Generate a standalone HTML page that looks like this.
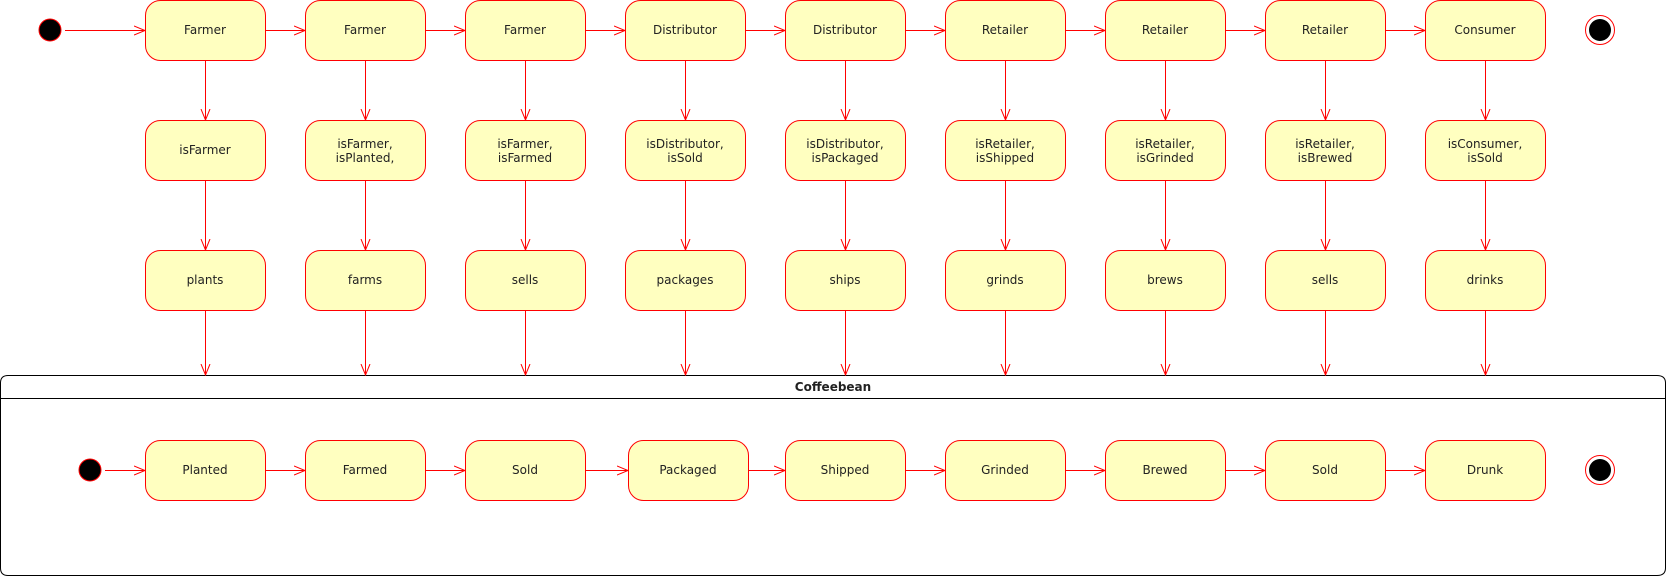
<!DOCTYPE html>
<html><head><meta charset="utf-8"><style>
html,body{margin:0;padding:0;background:#fff;}
svg{display:block}
text{font-family:"DejaVu Sans","Liberation Sans",sans-serif;font-size:12px;fill:#222;text-anchor:middle;dominant-baseline:central}
.b{fill:#ffffc0;stroke:#ff0000;stroke-width:1}
.l{stroke:#ff0000;stroke-width:1;fill:none}
</style></head><body>
<svg width="1666" height="577" viewBox="0 0 1666 577" xmlns="http://www.w3.org/2000/svg">
<defs><marker id="a" markerWidth="12" markerHeight="10" refX="11" refY="5" orient="auto" markerUnits="userSpaceOnUse"><path d="M0,0.5 L11,5 L0,9.5" fill="none" stroke="#ff0000" stroke-width="1"/></marker></defs>

<!-- container -->
<path d="M0.5,383 Q0.5,375.5 8,375.5 L1657,375.5 Q1665.5,375.5 1665.5,383 L1665.5,568 Q1665.5,575.5 1657,575.5 L8,575.5 Q0.5,575.5 0.5,568 Z" fill="#fff" stroke="#000"/>
<line x1="0.5" y1="398.5" x2="1665.5" y2="398.5" stroke="#000"/>
<text x="833" y="387" style="font-weight:bold">Coffeebean</text>

<!-- top start/end -->
<circle cx="50" cy="30" r="11" fill="#000" stroke="#ff0000"/>
<circle cx="1600" cy="30" r="14.5" fill="#fff" stroke="#ff0000"/>
<circle cx="1600" cy="30" r="11" fill="#000"/>

<!-- horizontal arrows row 1 -->
<g class="l" marker-end="url(#a)">
<line x1="65" y1="30.5" x2="145" y2="30.5"/>
<line x1="265" y1="30.5" x2="305" y2="30.5"/>
<line x1="425" y1="30.5" x2="465" y2="30.5"/>
<line x1="585" y1="30.5" x2="625" y2="30.5"/>
<line x1="745" y1="30.5" x2="785" y2="30.5"/>
<line x1="905" y1="30.5" x2="945" y2="30.5"/>
<line x1="1065" y1="30.5" x2="1105" y2="30.5"/>
<line x1="1225" y1="30.5" x2="1265" y2="30.5"/>
<line x1="1385" y1="30.5" x2="1425" y2="30.5"/>
</g>

<!-- vertical arrows -->
<g class="l" marker-end="url(#a)">
<line x1="205.5" y1="60" x2="205.5" y2="120"/><line x1="205.5" y1="180" x2="205.5" y2="250"/><line x1="205.5" y1="310" x2="205.5" y2="375"/>
<line x1="365.5" y1="60" x2="365.5" y2="120"/><line x1="365.5" y1="180" x2="365.5" y2="250"/><line x1="365.5" y1="310" x2="365.5" y2="375"/>
<line x1="525.5" y1="60" x2="525.5" y2="120"/><line x1="525.5" y1="180" x2="525.5" y2="250"/><line x1="525.5" y1="310" x2="525.5" y2="375"/>
<line x1="685.5" y1="60" x2="685.5" y2="120"/><line x1="685.5" y1="180" x2="685.5" y2="250"/><line x1="685.5" y1="310" x2="685.5" y2="375"/>
<line x1="845.5" y1="60" x2="845.5" y2="120"/><line x1="845.5" y1="180" x2="845.5" y2="250"/><line x1="845.5" y1="310" x2="845.5" y2="375"/>
<line x1="1005.5" y1="60" x2="1005.5" y2="120"/><line x1="1005.5" y1="180" x2="1005.5" y2="250"/><line x1="1005.5" y1="310" x2="1005.5" y2="375"/>
<line x1="1165.5" y1="60" x2="1165.5" y2="120"/><line x1="1165.5" y1="180" x2="1165.5" y2="250"/><line x1="1165.5" y1="310" x2="1165.5" y2="375"/>
<line x1="1325.5" y1="60" x2="1325.5" y2="120"/><line x1="1325.5" y1="180" x2="1325.5" y2="250"/><line x1="1325.5" y1="310" x2="1325.5" y2="375"/>
<line x1="1485.5" y1="60" x2="1485.5" y2="120"/><line x1="1485.5" y1="180" x2="1485.5" y2="250"/><line x1="1485.5" y1="310" x2="1485.5" y2="375"/>
</g>

<!-- row 1 -->
<g class="b">
<rect x="145.5" y="0.5" width="120" height="60" rx="15"/>
<rect x="305.5" y="0.5" width="120" height="60" rx="15"/>
<rect x="465.5" y="0.5" width="120" height="60" rx="15"/>
<rect x="625.5" y="0.5" width="120" height="60" rx="15"/>
<rect x="785.5" y="0.5" width="120" height="60" rx="15"/>
<rect x="945.5" y="0.5" width="120" height="60" rx="15"/>
<rect x="1105.5" y="0.5" width="120" height="60" rx="15"/>
<rect x="1265.5" y="0.5" width="120" height="60" rx="15"/>
<rect x="1425.5" y="0.5" width="120" height="60" rx="15"/>
</g>
<text x="205" y="30">Farmer</text><text x="365" y="30">Farmer</text><text x="525" y="30">Farmer</text>
<text x="685" y="30">Distributor</text><text x="845" y="30">Distributor</text>
<text x="1005" y="30">Retailer</text><text x="1165" y="30">Retailer</text><text x="1325" y="30">Retailer</text>
<text x="1485" y="30">Consumer</text>

<!-- row 2 -->
<g class="b">
<rect x="145.5" y="120.5" width="120" height="60" rx="15"/>
<rect x="305.5" y="120.5" width="120" height="60" rx="15"/>
<rect x="465.5" y="120.5" width="120" height="60" rx="15"/>
<rect x="625.5" y="120.5" width="120" height="60" rx="15"/>
<rect x="785.5" y="120.5" width="120" height="60" rx="15"/>
<rect x="945.5" y="120.5" width="120" height="60" rx="15"/>
<rect x="1105.5" y="120.5" width="120" height="60" rx="15"/>
<rect x="1265.5" y="120.5" width="120" height="60" rx="15"/>
<rect x="1425.5" y="120.5" width="120" height="60" rx="15"/>
</g>
<text x="205" y="150">isFarmer</text>
<text x="365" y="144">isFarmer,</text><text x="365" y="158">isPlanted,</text>
<text x="525" y="144">isFarmer,</text><text x="525" y="158">isFarmed</text>
<text x="685" y="144">isDistributor,</text><text x="685" y="158">isSold</text>
<text x="845" y="144">isDistributor,</text><text x="845" y="158">isPackaged</text>
<text x="1005" y="144">isRetailer,</text><text x="1005" y="158">isShipped</text>
<text x="1165" y="144">isRetailer,</text><text x="1165" y="158">isGrinded</text>
<text x="1325" y="144">isRetailer,</text><text x="1325" y="158">isBrewed</text>
<text x="1485" y="144">isConsumer,</text><text x="1485" y="158">isSold</text>

<!-- row 3 -->
<g class="b">
<rect x="145.5" y="250.5" width="120" height="60" rx="15"/>
<rect x="305.5" y="250.5" width="120" height="60" rx="15"/>
<rect x="465.5" y="250.5" width="120" height="60" rx="15"/>
<rect x="625.5" y="250.5" width="120" height="60" rx="15"/>
<rect x="785.5" y="250.5" width="120" height="60" rx="15"/>
<rect x="945.5" y="250.5" width="120" height="60" rx="15"/>
<rect x="1105.5" y="250.5" width="120" height="60" rx="15"/>
<rect x="1265.5" y="250.5" width="120" height="60" rx="15"/>
<rect x="1425.5" y="250.5" width="120" height="60" rx="15"/>
</g>
<text x="205" y="280">plants</text><text x="365" y="280">farms</text><text x="525" y="280">sells</text>
<text x="685" y="280">packages</text><text x="845" y="280">ships</text><text x="1005" y="280">grinds</text>
<text x="1165" y="280">brews</text><text x="1325" y="280">sells</text><text x="1485" y="280">drinks</text>

<!-- bottom row -->
<circle cx="90" cy="470" r="11" fill="#000" stroke="#ff0000"/>
<circle cx="1600" cy="470" r="14.5" fill="#fff" stroke="#ff0000"/>
<circle cx="1600" cy="470" r="11" fill="#000"/>
<g class="l" marker-end="url(#a)">
<line x1="105" y1="470.5" x2="145" y2="470.5"/>
<line x1="265" y1="470.5" x2="305" y2="470.5"/>
<line x1="425" y1="470.5" x2="465" y2="470.5"/>
<line x1="585" y1="470.5" x2="628" y2="470.5"/>
<line x1="748" y1="470.5" x2="785" y2="470.5"/>
<line x1="905" y1="470.5" x2="945" y2="470.5"/>
<line x1="1065" y1="470.5" x2="1105" y2="470.5"/>
<line x1="1225" y1="470.5" x2="1265" y2="470.5"/>
<line x1="1385" y1="470.5" x2="1425" y2="470.5"/>
</g>
<g class="b">
<rect x="145.5" y="440.5" width="120" height="60" rx="15"/>
<rect x="305.5" y="440.5" width="120" height="60" rx="15"/>
<rect x="465.5" y="440.5" width="120" height="60" rx="15"/>
<rect x="628.5" y="440.5" width="120" height="60" rx="15"/>
<rect x="785.5" y="440.5" width="120" height="60" rx="15"/>
<rect x="945.5" y="440.5" width="120" height="60" rx="15"/>
<rect x="1105.5" y="440.5" width="120" height="60" rx="15"/>
<rect x="1265.5" y="440.5" width="120" height="60" rx="15"/>
<rect x="1425.5" y="440.5" width="120" height="60" rx="15"/>
</g>
<text x="205" y="470">Planted</text><text x="365" y="470">Farmed</text><text x="525" y="470">Sold</text>
<text x="688" y="470">Packaged</text><text x="845" y="470">Shipped</text><text x="1005" y="470">Grinded</text>
<text x="1165" y="470">Brewed</text><text x="1325" y="470">Sold</text><text x="1485" y="470">Drunk</text>
</svg>
</body></html>
